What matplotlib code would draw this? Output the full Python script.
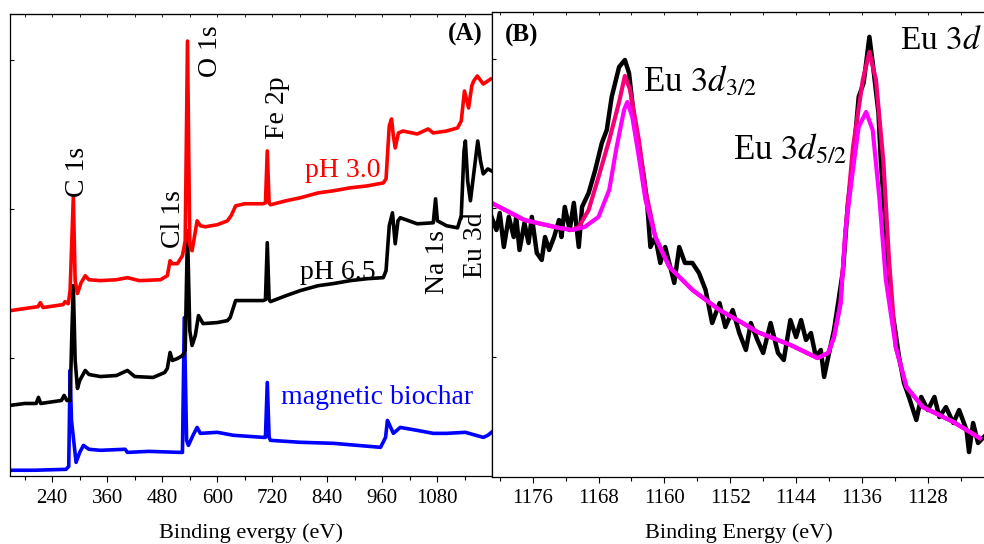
import matplotlib
matplotlib.use('Agg')
import matplotlib.pyplot as plt
from matplotlib.ticker import MultipleLocator, NullFormatter

plt.rcParams['font.family'] = 'Liberation Serif'
plt.rcParams['mathtext.fontset'] = 'stix'

# ---- (A) survey spectra: binding energy (eV) / intensity (a.u., offset) ----
red_x = [148, 209, 214, 220, 264, 268, 275, 279, 286, 290, 295, 303, 312, 320, 345, 380, 404, 430,
         476, 491, 497, 502, 513, 524, 530, 535, 540, 545, 556, 563, 574, 600, 622, 630, 640, 660,
         700, 705, 709, 713, 716, 750, 781, 820, 853, 890, 927, 962, 968, 975, 980, 984, 988, 995,
         1005, 1036, 1060, 1071, 1100, 1124, 1132, 1139, 1148, 1155, 1159, 1167, 1180, 1196]
red_y = [0.315, 0.342, 0.369, 0.336, 0.356, 0.376, 0.362, 0.45, 1.081, 0.517, 0.430, 0.503, 0.550,
         0.523, 0.517, 0.523, 0.537, 0.517, 0.523, 0.550, 0.651, 0.631, 0.631, 0.685, 0.785, 2.128,
         0.752, 0.718, 0.919, 0.886, 0.879, 0.893, 0.919, 0.953, 1.020, 1.034, 1.034, 1.040, 1.389,
         1.040, 1.027, 1.054, 1.074, 1.107, 1.121, 1.141, 1.154, 1.174, 1.201, 1.557, 1.604, 1.490,
         1.409, 1.510, 1.523, 1.503, 1.537, 1.510, 1.523, 1.544, 1.591, 1.792, 1.678, 1.826, 1.859,
         1.893, 1.839, 1.872]

black_x = [148, 180, 205, 210, 215, 260, 266, 272, 279, 283, 286, 290, 295, 300, 312, 320, 345, 380,
           404, 420, 460, 485, 491, 497, 502, 513, 524, 530, 535, 540, 545, 552, 559, 569, 600, 622,
           628, 640, 670, 700, 705, 709, 713, 716, 750, 781, 820, 853, 890, 927, 962, 968, 975, 982,
           988, 994, 999, 1036, 1071, 1076, 1080, 1100, 1124, 1132, 1138, 1141, 1146, 1152, 1160,
           1168, 1174, 1180, 1190, 1198]
black_y = [-0.322, -0.309, -0.309, -0.268, -0.309, -0.289, -0.255, -0.289, -0.289, 0.181, 0.483,
           -0.020, -0.208, -0.154, -0.087, -0.114, -0.128, -0.121, -0.087, -0.128, -0.134, -0.101,
           -0.074, 0.034, -0.020, -0.007, 0.013, 0.047, 0.852, 0.181, 0.081, 0.148, 0.282, 0.228,
           0.235, 0.248, 0.268, 0.383, 0.383, 0.383, 0.389, 0.772, 0.389, 0.376, 0.416, 0.450, 0.483,
           0.497, 0.517, 0.530, 0.537, 0.584, 0.886, 0.973, 0.765, 0.919, 0.940, 0.899, 0.906, 1.067,
           0.919, 0.886, 0.872, 0.953, 1.389, 1.456, 1.188, 1.054, 1.255, 1.456, 1.322, 1.235, 1.268,
           1.255]

blue_x = [148, 200, 270, 276, 279, 282, 292, 300, 308, 320, 345, 399, 404, 450, 519, 524, 528, 533,
          537, 547, 556, 563, 600, 635, 700, 705, 709, 713, 716, 781, 853, 956, 967, 971, 976, 984,
          999, 1036, 1071, 1100, 1141, 1180, 1190, 1198]
blue_y = [-0.758, -0.758, -0.752, -0.732, -0.087, -0.423, -0.705, -0.638, -0.591, -0.617, -0.624,
          -0.617, -0.638, -0.631, -0.638, -0.638, 0.268, -0.557, -0.591, -0.523, -0.470, -0.510,
          -0.503, -0.523, -0.537, -0.537, -0.168, -0.537, -0.557, -0.570, -0.577, -0.604, -0.537,
          -0.423, -0.456, -0.510, -0.470, -0.490, -0.510, -0.510, -0.503, -0.537, -0.523, -0.503]

# ---- (B) Eu 3d high resolution ----
exp_x = [1181.0, 1180.4, 1180.0, 1179.5, 1178.9, 1178.3, 1178.0, 1177.6, 1177.0, 1176.5, 1176.1,
         1175.5, 1174.9, 1174.5, 1174.0, 1173.4, 1172.8, 1172.5, 1172.1, 1171.5, 1171.0, 1170.4,
         1170.0, 1169.2, 1168.4, 1167.6, 1167.0, 1166.4, 1165.5, 1164.8, 1164.3, 1163.7, 1163.1,
         1162.5, 1162.1, 1161.7, 1161.1, 1160.5, 1159.9, 1158.8, 1158.2, 1157.5, 1156.6, 1155.8,
         1155.0, 1154.2, 1153.3, 1152.6, 1151.7, 1150.9, 1150.1, 1149.5, 1148.7, 1148.0, 1147.1,
         1146.2, 1145.5, 1144.7, 1144.0, 1143.4, 1142.8, 1142.2, 1141.6, 1141.0, 1140.6, 1140.1,
         1139.4, 1138.9, 1138.3, 1137.7, 1137.1, 1136.4, 1135.8, 1135.1, 1134.7, 1134.0, 1133.7,
         1133.1, 1132.7, 1132.1, 1131.5, 1130.9, 1130.3, 1129.4, 1128.8, 1128.0, 1127.2, 1126.6,
         1125.8, 1124.9, 1124.2, 1123.3, 1123.0, 1122.5, 1121.9, 1121.2]
exp_y = [0.940, 0.852, 0.966, 0.738, 0.940, 0.805, 0.940, 0.718, 0.899, 0.765, 0.940, 0.698, 0.651,
         0.805, 0.718, 0.805, 0.919, 0.805, 1.007, 0.852, 1.034, 0.738, 1.007, 1.101, 1.255, 1.436,
         1.523, 1.745, 1.946, 1.993, 1.906, 1.611, 1.409, 1.208, 1.034, 0.738, 0.805, 0.631, 0.738,
         0.497, 0.738, 0.631, 0.631, 0.564, 0.450, 0.228, 0.362, 0.201, 0.315, 0.161, 0.047, 0.228,
         0.114, 0.027, 0.228, 0.027, -0.020, 0.248, 0.134, 0.248, 0.114, 0.161, 0.000, 0.047, -0.134,
         0.000, 0.181, 0.362, 0.584, 1.034, 1.302, 1.745, 1.839, 2.148, 1.973, 1.638, 1.302, 0.852,
         0.403, 0.228, 0.000, -0.174, -0.268, -0.423, -0.268, -0.356, -0.268, -0.403, -0.336, -0.443,
         -0.356, -0.490, -0.638, -0.443, -0.577, -0.537]

comp_x = [1181.0, 1177.0, 1172.8, 1171.2, 1169.7, 1168.0, 1166.7, 1165.8, 1164.9, 1164.5, 1163.9,
          1163.1, 1162.3, 1161.1, 1159.4, 1156.6, 1153.3, 1150.5, 1148.7, 1144.7, 1141.4, 1140.1,
          1139.4, 1138.6, 1138.0, 1137.1, 1136.4, 1135.5, 1134.7, 1133.9, 1133.1, 1131.9, 1130.6,
          1128.6, 1124.9, 1121.7]
comp_y = [1.034, 0.919, 0.866, 0.852, 0.872, 0.940, 1.121, 1.409, 1.658, 1.711, 1.611, 1.342, 1.054,
          0.805, 0.604, 0.450, 0.315, 0.228, 0.168, 0.081, -0.007, 0.027, 0.134, 0.362, 0.852, 1.255,
          1.544, 1.644, 1.523, 1.074, 0.517, 0.067, -0.201, -0.336, -0.436, -0.544]

env_x = [1181.0, 1177.0, 1172.8, 1171.2, 1170.4, 1169.2, 1168.0, 1166.7, 1165.5, 1164.8, 1164.2,
         1163.1, 1162.3, 1161.1, 1159.4, 1156.6, 1153.3, 1150.5, 1148.7, 1144.7, 1141.4, 1140.1,
         1139.4, 1138.6, 1138.0, 1137.1, 1135.9, 1135.1, 1134.3, 1133.4, 1132.7, 1131.9, 1130.6,
         1128.6, 1124.9, 1121.7]
env_y = [1.034, 0.919, 0.866, 0.852, 0.872, 0.987, 1.208, 1.456, 1.711, 1.886, 1.799, 1.456, 1.121,
         0.805, 0.604, 0.450, 0.315, 0.228, 0.168, 0.081, -0.007, 0.027, 0.134, 0.362, 0.852, 1.403,
         1.859, 2.047, 1.859, 1.309, 0.638, 0.067, -0.201, -0.336, -0.436, -0.544]

fig = plt.figure(figsize=(9.84, 5.44), dpi=100)
axA = fig.add_axes([0.0102, 0.1241, 0.4893, 0.8502])
axB = fig.add_axes([0.4995, 0.1232, 0.5020, 0.8548])

# Panel A
axA.plot(blue_x, blue_y, color='#0000ff', lw=2.6)
axA.plot(black_x, black_y, color='black', lw=2.6)
axA.plot(red_x, red_y, color='#ff0000', lw=2.6)
axA.set_xlim(148, 1198)
axA.set_ylim(-0.8, 2.31)
axA.xaxis.set_major_locator(MultipleLocator(120))
axA.xaxis.set_minor_locator(MultipleLocator(60))
axA.set_xlabel('Binding evergy (eV)', fontsize=16, labelpad=11)

lab = dict(fontsize=20, rotation=90, ha='center', va='center')
axA.text(295, 1.248, 'C 1s', **lab)
axA.text(504, 0.933, 'Cl 1s', **lab)
axA.text(585, 2.06, 'O 1s', **lab)
axA.text(731, 1.678, 'Fe 2p', **lab)
axA.text(1080, 0.64, 'Na 1s', **lab)
axA.text(1163, 0.758, 'Eu 3d', **lab)
axA.text(873, 1.255, 'pH 3.0', color='#ff0000', fontsize=20, ha='center', va='center')
axA.text(862, 0.57, 'pH 6.5', color='black', fontsize=20, ha='center', va='center')
axA.text(949, -0.268, 'magnetic biochar', color='#0000ff', fontsize=20, ha='center', va='center')
axA.text(0.945, 0.955, '(A)', transform=axA.transAxes, fontsize=18, fontweight='bold',
         ha='center', va='center')

# Panel B
axB.plot(exp_x, exp_y, color='black', lw=3.2)
axB.plot(env_x, env_y, color='#f5007a', lw=3)
axB.plot(comp_x, comp_y, color='#ff00ff', lw=3)
axB.set_xlim(1181, 1121)
axB.set_ylim(-0.805, 2.315)
axB.xaxis.set_major_locator(MultipleLocator(8))
axB.xaxis.set_minor_locator(MultipleLocator(4))
axB.set_xlabel('Binding Energy (eV)', fontsize=16, labelpad=11)
axB.spines['right'].set_visible(False)

axB.text(1162.6, 1.785, r'Eu $\mathit{3d}_{\mathit{3/2}}$', fontsize=25, ha='left', va='baseline')
axB.text(1151.7, 1.329, r'Eu $\mathit{3d}_{\mathit{5/2}}$', fontsize=25, ha='left', va='baseline')
axB.text(1131.4, 2.067, r'Eu $\mathit{3d}$', fontsize=24, ha='left', va='baseline')
axB.text(0.060, 0.950, '(B)', transform=axB.transAxes, fontsize=18, fontweight='bold',
         ha='center', va='center')

for ax in (axA, axB):
    ax.yaxis.set_major_locator(MultipleLocator(1))
    ax.yaxis.set_major_formatter(NullFormatter())
    ax.tick_params(axis='x', which='major', direction='out', length=4, width=0.8,
                   labelsize=15, pad=5, top=False)
    ax.tick_params(axis='x', which='minor', direction='out', length=3, width=0.8, top=False)
    ax.tick_params(axis='y', which='both', direction='in', length=3, width=0.8, right=False)
    for s in ax.spines.values():
        s.set_linewidth(0.9)
    # small inward ticks along the top spine
    sec = ax.secondary_xaxis('top')
    sec.xaxis.set_major_locator(ax.xaxis.get_minor_locator())
    sec.xaxis.set_major_formatter(NullFormatter())
    sec.tick_params(direction='in', length=2, width=0.6)

fig.savefig('out.png', dpi=100)
